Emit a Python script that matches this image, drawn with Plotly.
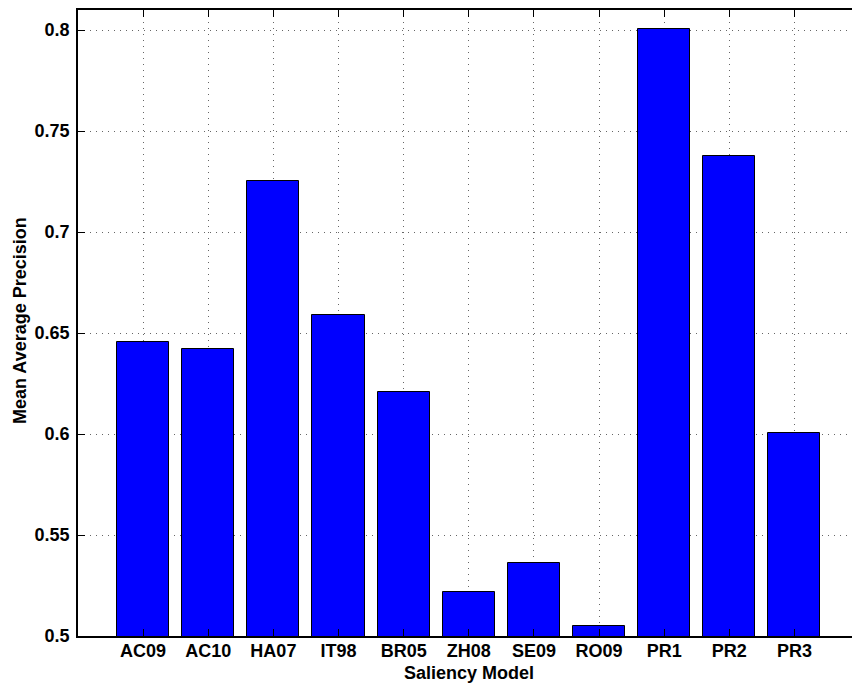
import plotly.graph_objects as go

# Mean average precision per saliency model
models = ["AC09", "AC10", "HA07", "IT98", "BR05", "ZH08", "SE09", "RO09", "PR1", "PR2", "PR3"]
map_scores = [0.6454, 0.6423, 0.7251, 0.6588, 0.6210, 0.5216, 0.5363, 0.5048, 0.8005, 0.7375, 0.6007]
y_ticks = [0.5, 0.55, 0.6, 0.65, 0.7, 0.75, 0.8]
y_tick_labels = ["0.5", "0.55", "0.6", "0.65", "0.7", "0.75", "0.8"]

positions = list(range(1, len(models) + 1))

W, H = 852, 684
ML, MT, MB, MR = 78, 10, 48, 0
font = dict(family="Liberation Sans, Arial, sans-serif", size=18, color="black", weight="bold")

fig = go.Figure(
    go.Bar(
        x=positions,
        y=map_scores,
        width=0.8,
        marker=dict(color="#0000FF", line=dict(color="black", width=1)),
        showlegend=False,
    )
)

grid = dict(showgrid=True, gridcolor="#666666", gridwidth=1, griddash="1px,5px")

fig.update_xaxes(
    range=[0, 11.884],
    tickvals=positions,
    ticktext=models,
    ticks="inside",
    ticklen=7,
    tickcolor="black",
    showline=True,
    linecolor="black",
    linewidth=1.5,
    mirror="ticks",
    zeroline=False,
    tickfont=font,
    ticklabelstandoff=-2,
    **grid,
)
fig.update_yaxes(
    range=[0.5, 0.8099],
    tickvals=y_ticks,
    ticktext=y_tick_labels,
    ticks="inside",
    ticklen=7,
    tickcolor="black",
    showline=True,
    linecolor="black",
    linewidth=1.5,
    mirror=False,
    zeroline=False,
    tickfont=font,
    ticklabelstandoff=3,
    **grid,
)

plot_w = W - ML - MR
plot_h = H - MT - MB

fig.add_annotation(
    text="Saliency Model",
    xref="paper", yref="paper",
    x=0.5 + (468.5 - (ML + plot_w / 2)) / plot_w,
    y=-(673 - (MT + plot_h)) / plot_h,
    xanchor="center", yanchor="middle",
    showarrow=False,
    font=font,
)
fig.add_annotation(
    text="Mean Average Precision",
    xref="paper", yref="paper",
    x=(20 - ML) / plot_w,
    y=1 - (321 - MT) / plot_h,
    xanchor="center", yanchor="middle",
    textangle=-90,
    showarrow=False,
    font=font,
)

fig.update_layout(
    width=W,
    height=H,
    margin=dict(l=ML, r=MR, t=MT, b=MB),
    plot_bgcolor="white",
    paper_bgcolor="white",
    bargap=0,
)

fig.write_html("out.html")
